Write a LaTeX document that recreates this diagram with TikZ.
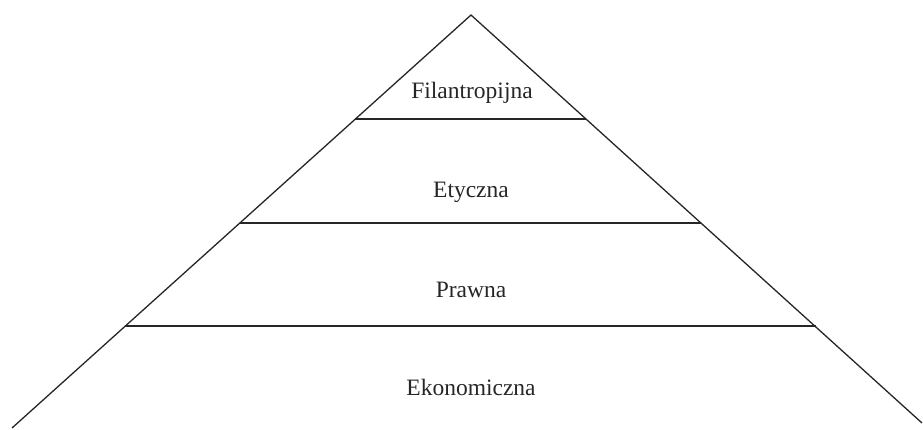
\documentclass[tikz,border=0pt]{standalone}
\usepackage{fontspec}
\setmainfont{Liberation Serif}
\begin{document}
\begin{tikzpicture}[x=1pt,y=-1pt,
  edge/.style={draw=black!85,line width=1.3pt},
  lvl/.style={font=\fontsize{23.5}{27}\selectfont,anchor=base,text=black!85,inner sep=0pt}]
\useasboundingbox (0,0) rectangle (923,429);
\coordinate (apex) at (471,15);
\coordinate (bl) at (12,428);
\coordinate (br) at (922,423);
\coordinate (l1) at (355.4,119);
\coordinate (r1) at (585.9,119);
\coordinate (l2) at (239.9,223);
\coordinate (r2) at (700.8,223);
\coordinate (l3) at (125.4,326);
\coordinate (r3) at (815.5,326);
\draw[edge] (bl) -- (apex) -- (br);
\draw[edge] (l1) -- (r1);
\draw[edge] (l2) -- (r2);
\draw[edge] (l3) -- (r3);
\node[lvl] (fil) at (472,98) {Filantropijna};
\node[lvl] (ety) at (471,197) {Etyczna};
\node[lvl] (pra) at (471,297) {Prawna};
\node[lvl] (eko) at (471,395) {Ekonomiczna};
\end{tikzpicture}
\end{document}
